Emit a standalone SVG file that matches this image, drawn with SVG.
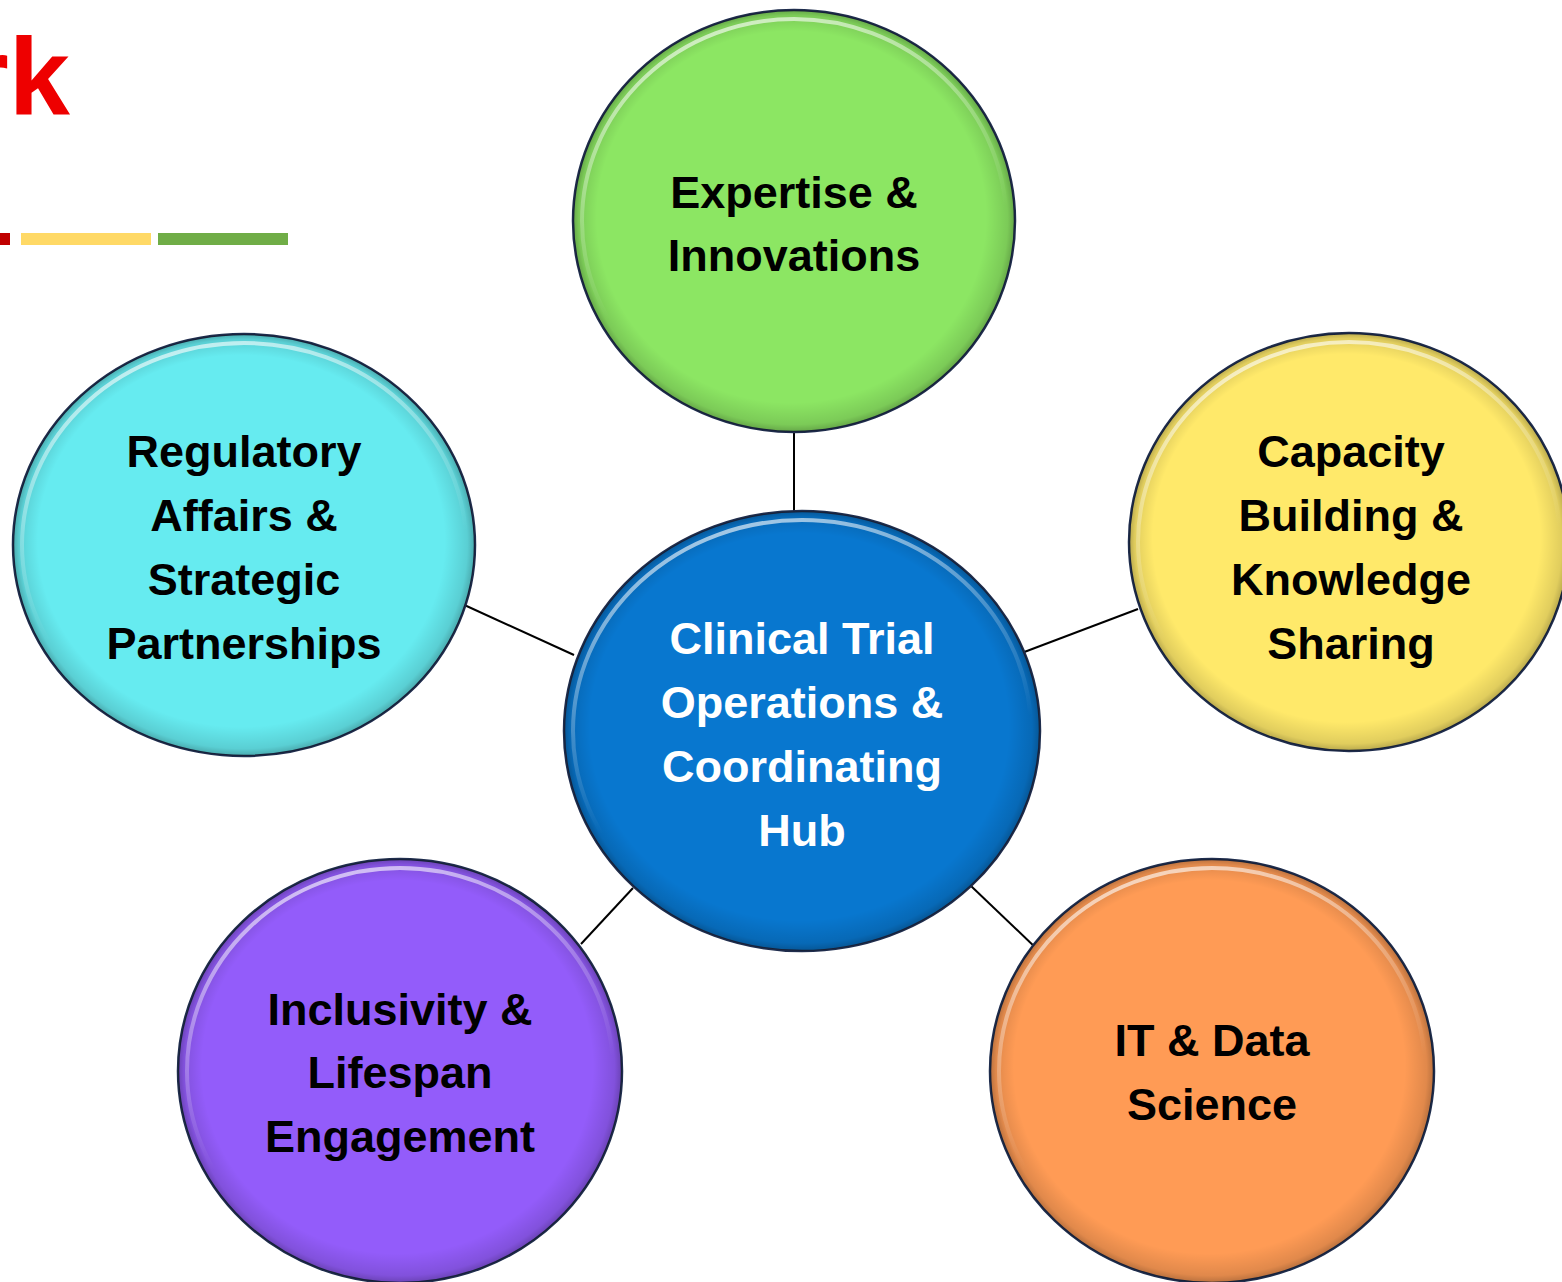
<svg xmlns="http://www.w3.org/2000/svg" width="1562" height="1282" viewBox="0 0 1562 1282">
<defs>
<style>
.ring{stroke:#1f2d4d;stroke-width:2.5}
.hl{fill:none;stroke:url(#hl);stroke-width:4}
.rim{fill:url(#rim);stroke:none}
.t{font-family:"Liberation Sans",Arial,sans-serif;font-weight:bold;font-size:45px;text-anchor:middle;fill:#000}
.w{fill:#fff}
.conn line{stroke:#000;stroke-width:2}
</style>
<linearGradient id="hl" x1="0" y1="0" x2="0.3" y2="1">
<stop offset="0" stop-color="#fff" stop-opacity="0.75"/>
<stop offset="0.45" stop-color="#fff" stop-opacity="0.25"/>
<stop offset="0.7" stop-color="#fff" stop-opacity="0"/>
</linearGradient>
<radialGradient id="rim" cx="0.5" cy="0.5" r="0.5" fx="0.45" fy="0.42">
<stop offset="0.88" stop-color="#000" stop-opacity="0"/>
<stop offset="0.97" stop-color="#000" stop-opacity="0.12"/>
<stop offset="1" stop-color="#000" stop-opacity="0.28"/>
</radialGradient>
</defs>
<rect width="1562" height="1282" fill="#fff"/>
<text x="70" y="114" font-family="Liberation Sans,Arial,sans-serif" font-weight="bold" font-size="110" fill="#ee0000" text-anchor="end">rk</text>
<rect x="0" y="233" width="10" height="12" fill="#c00000"/>
<rect x="21" y="233" width="130" height="12" fill="#ffd966"/>
<rect x="158" y="233" width="130" height="12" fill="#70ad47"/>
<g id="connectors" class="conn">
<line x1="794" y1="433" x2="794" y2="512"/>
<line x1="460" y1="603" x2="574" y2="655"/>
<line x1="1138" y1="609" x2="1019" y2="654"/>
<line x1="581" y1="944" x2="633" y2="888"/>
<line x1="1038" y1="950" x2="971" y2="886"/>
</g>
<g id="node-expertise">
<ellipse cx="794" cy="221" rx="221" ry="211" fill="#8ce663" class="ring"/>
<ellipse cx="794" cy="221" rx="221" ry="211" class="rim"/>
<ellipse cx="794" cy="221" rx="212" ry="202" class="hl"/>
<text class="t" x="794" y="208">Expertise &amp;</text>
<text class="t" x="794" y="271">Innovations</text>
</g>
<g id="node-regulatory">
<ellipse cx="244" cy="545" rx="231" ry="211" fill="#66ebf0" class="ring"/>
<ellipse cx="244" cy="545" rx="231" ry="211" class="rim"/>
<ellipse cx="244" cy="545" rx="222" ry="202" class="hl"/>
<text class="t" x="244" y="467">Regulatory</text>
<text class="t" x="244" y="531">Affairs &amp;</text>
<text class="t" x="244" y="595">Strategic</text>
<text class="t" x="244" y="659">Partnerships</text>
</g>
<g id="node-hub">
<ellipse cx="802" cy="731" rx="238" ry="220" fill="#0877cf" class="ring"/>
<ellipse cx="802" cy="731" rx="238" ry="220" class="rim"/>
<ellipse cx="802" cy="731" rx="229" ry="211" class="hl"/>
<text class="t w" x="802" y="654">Clinical Trial</text>
<text class="t w" x="802" y="718">Operations &amp;</text>
<text class="t w" x="802" y="782">Coordinating</text>
<text class="t w" x="802" y="846">Hub</text>
</g>
<g id="node-capacity">
<ellipse cx="1349" cy="542" rx="220" ry="209" fill="#ffe96a" class="ring"/>
<ellipse cx="1349" cy="542" rx="220" ry="209" class="rim"/>
<ellipse cx="1349" cy="542" rx="211" ry="200" class="hl"/>
<text class="t" x="1351" y="467">Capacity</text>
<text class="t" x="1351" y="531">Building &amp;</text>
<text class="t" x="1351" y="595">Knowledge</text>
<text class="t" x="1351" y="659">Sharing</text>
</g>
<g id="node-inclusivity">
<ellipse cx="400" cy="1071" rx="222" ry="212" fill="#935cfa" class="ring"/>
<ellipse cx="400" cy="1071" rx="222" ry="212" class="rim"/>
<ellipse cx="400" cy="1071" rx="213" ry="203" class="hl"/>
<text class="t" x="400" y="1025">Inclusivity &amp;</text>
<text class="t" x="400" y="1088">Lifespan</text>
<text class="t" x="400" y="1152">Engagement</text>
</g>
<g id="node-it">
<ellipse cx="1212" cy="1071" rx="222" ry="212" fill="#ff9b55" class="ring"/>
<ellipse cx="1212" cy="1071" rx="222" ry="212" class="rim"/>
<ellipse cx="1212" cy="1071" rx="213" ry="203" class="hl"/>
<text class="t" x="1212" y="1056">IT &amp; Data</text>
<text class="t" x="1212" y="1120">Science</text>
</g>
</svg>
